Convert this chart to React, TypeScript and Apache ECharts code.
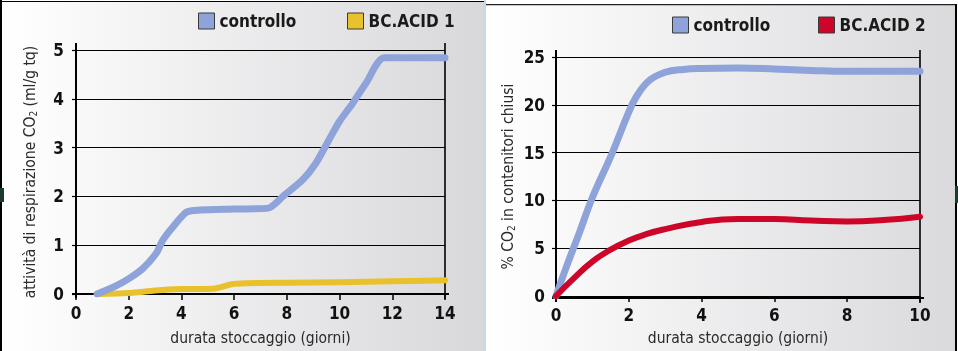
import React, { useEffect, useRef } from "react";
import * as echarts from "echarts";

// ---- data ----
const leftCtrlDays = [0.8, 1.5, 2.05, 2.55, 3.05, 3.3, 3.7, 4.2, 4.7, 6.0, 7.3, 7.85, 8.6, 9.1, 9.6, 10.0, 10.5, 11.0, 11.7, 14];
const leftCtrlVals = [0, 0.16, 0.33, 0.53, 0.84, 1.11, 1.39, 1.68, 1.72, 1.74, 1.76, 2.0, 2.34, 2.68, 3.16, 3.54, 3.91, 4.32, 4.84, 4.84];
const leftAcidDays = [0.85, 2.0, 3.0, 4.0, 5.2, 5.9, 6.5, 8.0, 10, 12, 14];
const leftAcidVals = [0, 0.02, 0.07, 0.1, 0.11, 0.2, 0.22, 0.23, 0.24, 0.26, 0.28];

const rightCtrlDays = [0, 0.3, 0.65, 1.0, 1.55, 1.95, 2.2, 2.55, 3.0, 3.5, 4.0, 5.0, 6.0, 7.0, 8.0, 9.0, 10];
const rightCtrlVals = [0, 3.2, 6.7, 10.3, 15.0, 18.8, 20.8, 22.5, 23.4, 23.7, 23.8, 23.85, 23.75, 23.6, 23.5, 23.5, 23.5];
const rightAcidDays = [0, 0.5, 1.0, 1.5, 2.0, 2.5, 3.0, 4.0, 5.0, 6.0, 7.0, 8.0, 9.0, 10];
const rightAcidVals = [0, 1.9, 3.6, 4.85, 5.8, 6.5, 7.0, 7.75, 8.05, 8.05, 7.9, 7.8, 7.95, 8.3];

const seriesNames = ["controllo", "BC.ACID 1", "BC.ACID 2"];
const xTitle = "durata stoccaggio (giorni)";
const leftYTitle = "attività di respirazione CO{sub|2} (ml/g tq)";
const rightYTitle = "% CO{sub|2} in contenitori chiusi";

const BLUE = "#8ea3d9";
const YELLOW = "#e9c12c";
const RED = "#cc0529";
const FONT = "'Liberation Sans Narrow', 'DejaVu Sans Condensed', 'Roboto Condensed', sans-serif";

const pairs = (xs: number[], ys: number[]) => xs.map((x, i) => [x, ys[i]]);

export default function App() {
  const ref = useRef<HTMLDivElement>(null);
  useEffect(() => {
    document.body.style.margin = "0";
    const chart = echarts.init(ref.current!, null, { renderer: "svg" });

    const grids = [
      { left: 76, top: 50, width: 369, height: 244 },
      { left: 556, top: 57, width: 364, height: 241 },
    ];
    const tickLabel = { color: "#111", fontFamily: FONT, fontWeight: "bold" as const, fontSize: 17 };
    const nameStyle = (fs: number) => ({
      color: "#2a2a2a",
      fontFamily: FONT,
      fontSize: fs,
      rich: { sub: { fontSize: 10, verticalAlign: "bottom" as const, fontFamily: FONT, color: "#2a2a2a" } },
    });
    const xAx = (gi: number, max: number, gap: number) => ({
      gridIndex: gi,
      type: "value" as const,
      min: 0,
      max,
      interval: 2,
      axisLine: { show: false },
      axisTick: { show: true, length: 6, lineStyle: { color: "#000", width: 1.5 } },
      splitLine: { show: false },
      axisLabel: { ...tickLabel, margin: 10 },
      name: xTitle,
      nameLocation: "middle" as const,
      nameGap: gap,
      nameTextStyle: { color: "#2a2a2a", fontFamily: FONT, fontSize: 15.5 },
    });
    const yAx = (gi: number, max: number, interval: number, name: string, gap: number, margin: number, fs: number) => ({
      gridIndex: gi,
      type: "value" as const,
      min: 0,
      max,
      interval,
      axisLine: { show: false },
      axisTick: { show: true, length: 4, lineStyle: { color: "#000", width: 1.2 } },
      splitLine: { show: true, lineStyle: { color: "#000", width: 1 } },
      axisLabel: { ...tickLabel, margin },
      name,
      nameLocation: "middle" as const,
      nameRotate: 90,
      nameGap: gap,
      nameTextStyle: nameStyle(fs),
    });

    const frame = (g: { left: number; top: number; width: number; height: number }) => {
      const x0 = g.left, y0 = g.top + g.height, xr = g.left + g.width, yt = g.top;
      const ls = (w: number) => ({ stroke: "#000", lineWidth: w });
      return [
        { type: "line", z: 1, shape: { x1: x0, y1: yt - 7, x2: x0, y2: y0 + 4 }, style: ls(2) },
        { type: "line", z: 1, shape: { x1: x0 - 4, y1: y0, x2: xr + 4, y2: y0 }, style: ls(2) },
        { type: "line", z: 1, shape: { x1: xr, y1: yt - 7, x2: xr, y2: y0 + 5 }, style: ls(1.6) },
      ];
    };
    const grad = (end: string) => ({
      type: "linear",
      x: 0, y: 0, x2: 1, y2: 0,
      colorStops: [
        { offset: 0, color: "#ffffff" },
        { offset: 1, color: end },
      ],
    });

    const legendBase = {
      orient: "horizontal" as const,
      padding: 0,
      itemWidth: 16,
      itemHeight: 16,
      icon: "rect",
      selectedMode: false,
      itemStyle: { borderColor: "#3a3a3a", borderWidth: 1 },
      textStyle: { color: "#1a1a1a", fontFamily: FONT, fontWeight: "bold" as const, fontSize: 17, lineHeight: 18 },
    };

    const line = (name: string, color: string, xi: number, data: number[][], width: number, smooth: number | boolean) => ({
      name,
      type: "line" as const,
      xAxisIndex: xi,
      yAxisIndex: xi,
      data,
      smooth,
      showSymbol: false,
      symbol: "none",
      color,
      itemStyle: { color },
      lineStyle: { color, width, cap: "round" as const, join: "round" as const },
      z: 3,
    });

    chart.setOption({
      animation: false,
      grid: grids,
      xAxis: [xAx(0, 14, 36), xAx(1, 10, 34)],
      yAxis: [yAx(0, 5, 1, leftYTitle, 38, 12, 15.5), yAx(1, 25, 5, rightYTitle, 40, 11, 15.5)],
      legend: [
        { ...legendBase, data: [seriesNames[0]], left: 198, top: 12 },
        { ...legendBase, data: [seriesNames[1]], left: 347, top: 12 },
        { ...legendBase, data: [seriesNames[0]], left: 672, top: 16 },
        { ...legendBase, data: [seriesNames[2]], left: 818, top: 16 },
      ],
      series: [
        line(seriesNames[1], YELLOW, 0, pairs(leftAcidDays, leftAcidVals), 6, 0.3),
        line(seriesNames[0], BLUE, 0, pairs(leftCtrlDays, leftCtrlVals), 7, 0.25),
        line(seriesNames[0], BLUE, 1, pairs(rightCtrlDays, rightCtrlVals), 7, 0.4),
        line(seriesNames[2], RED, 1, pairs(rightAcidDays, rightAcidVals), 6, 0.5),
      ],
      graphic: [
        { type: "rect", z: -10, shape: { x: 2, y: 1, width: 482, height: 350 }, style: { fill: grad("#d8d8db") } },
        { type: "rect", z: -10, shape: { x: 0, y: 0, width: 2, height: 351 }, style: { fill: "#000" } },
        { type: "rect", z: -10, shape: { x: 0, y: 1, width: 484, height: 1 }, style: { fill: "#000" } },
        { type: "rect", z: -10, shape: { x: 0, y: 188, width: 4, height: 14 }, style: { fill: "#1d3b2c" } },
        { type: "rect", z: -10, shape: { x: 484, y: 0, width: 2, height: 351 }, style: { fill: "#c8d7e8" } },
        { type: "rect", z: -10, shape: { x: 486, y: 5, width: 469, height: 346 }, style: { fill: grad("#dadadd") } },
        { type: "rect", z: -10, shape: { x: 486, y: 4, width: 471, height: 1.2 }, style: { fill: "#222" } },
        { type: "rect", z: -10, shape: { x: 955, y: 4, width: 2, height: 347 }, style: { fill: "#000" } },
        { type: "rect", z: -10, shape: { x: 955, y: 186, width: 3, height: 17 }, style: { fill: "#1d3b2c" } },
        ...frame(grids[0]),
        ...frame(grids[1]),
      ],
    });
    return () => chart.dispose();
  }, []);
  return <div ref={ref} style={{ position: "fixed", left: 0, top: 0, width: 958, height: 351 }} />;
}
